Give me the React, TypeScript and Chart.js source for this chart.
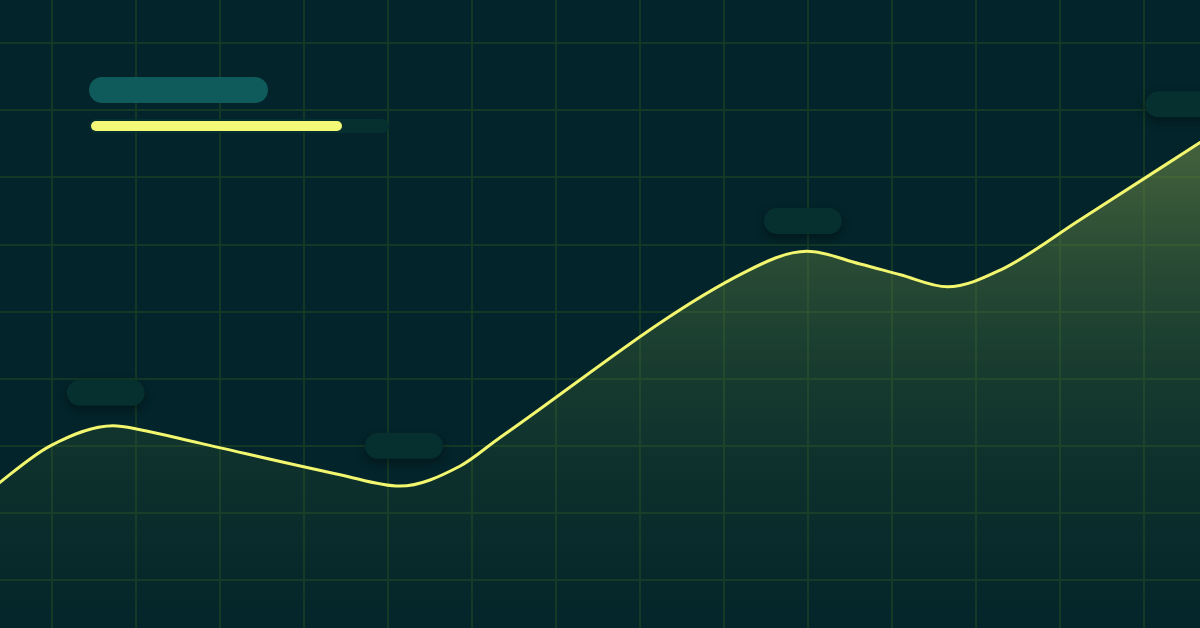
import { useEffect, useRef } from "react";
import { Chart, registerables } from "chart.js";

Chart.register(...registerables);

// curve points, in grid units (one unit = one grid cell)
const xValues = [-0.74, -0.02, 0.73, 1.05, 1.76, 3.43, 4.14, 4.86, 5.33, 8.25, 8.99, 9.62, 10.1, 10.66, 11.29, 12.24, 13.79];
const yValues = [1.34, 2.0, 2.3, 2.24, 2.04, 1.57, 1.4, 1.7, 2.12, 4.59, 4.9, 4.71, 4.55, 4.37, 4.62, 5.37, 6.62];

// placeholder label pills above the turning points
const pillX = [0.64, 4.19, 8.94, 13.48];
const pillY = [2.79, 2.0, 5.35, 7.09];

const progress = 0.85;

const pillPlugin = {
  id: "pills",
  afterDatasetsDraw(chart: Chart) {
    const { ctx, scales } = chart;
    ctx.save();
    pillX.forEach((v, i) => {
      const cx = scales.x.getPixelForValue(v);
      const cy = scales.y.getPixelForValue(pillY[i]);
      const w = 78;
      const h = 26;
      ctx.shadowColor = "rgba(0,0,0,0.35)";
      ctx.shadowBlur = 10;
      ctx.shadowOffsetY = 4;
      ctx.fillStyle = "#062f30";
      ctx.beginPath();
      ctx.roundRect(cx - w / 2, cy - h / 2, w, h, h / 2);
      ctx.fill();
    });
    ctx.restore();
  },
};

const App = () => {
  const canvasRef = useRef<HTMLCanvasElement>(null);

  useEffect(() => {
    document.body.style.margin = "0";
    if (!canvasRef.current) return;

    const chart = new Chart(canvasRef.current, {
      type: "line",
      data: {
        datasets: [
          {
            data: xValues.map((x, i) => ({ x, y: yValues[i] })),
            borderColor: "#f3f76f",
            borderWidth: 3,
            pointRadius: 0,
            cubicInterpolationMode: "monotone",
            fill: "start",
            backgroundColor: (ctx: any) => {
              const area = ctx.chart.chartArea;
              if (!area) return "rgba(90,120,60,0.4)";
              const g = ctx.chart.ctx.createLinearGradient(0, 130, 0, area.bottom);
              g.addColorStop(0, "rgba(112,140,72,0.62)");
              g.addColorStop(0.5, "rgba(70,110,60,0.3)");
              g.addColorStop(1, "rgba(30,70,50,0.08)");
              return g;
            },
          },
        ],
      },
      options: {
        animation: false,
        responsive: false,
        devicePixelRatio: 1,
        layout: { padding: 0 },
        plugins: { legend: { display: false }, tooltip: { enabled: false } },
        scales: {
          x: {
            type: "linear",
            min: -0.619,
            max: 13.667,
            ticks: { display: false, stepSize: 1, includeBounds: false },
            grid: { color: "#133826", lineWidth: 2, drawTicks: false, tickLength: 0 },
            border: { display: false },
          },
          y: {
            type: "linear",
            min: -0.715,
            max: 8.645,
            ticks: { display: false, stepSize: 1, includeBounds: false },
            grid: { color: "#133826", lineWidth: 2, drawTicks: false, tickLength: 0 },
            border: { display: false },
          },
        },
      },
      plugins: [pillPlugin],
    });

    return () => {
      chart.destroy();
    };
  }, []);

  return (
    <div style={{ position: "relative", width: 1200, height: 628, background: "#03242a", overflow: "hidden" }}>
      <canvas ref={canvasRef} width={1200} height={628} style={{ position: "absolute", left: 0, top: 0 }} />
      <div style={{ position: "absolute", left: 89, top: 77, width: 179, height: 26, borderRadius: 13, background: "#0f5a5a" }} />
      <div style={{ position: "absolute", left: 89, top: 119, width: 300, height: 14, borderRadius: 7, background: "#05302f" }}>
        <div style={{ position: "absolute", left: 2, top: 2, width: 296 * progress - 1, height: 10, borderRadius: 5, background: "#f4f877" }} />
      </div>
    </div>
  );
};

export default App;
